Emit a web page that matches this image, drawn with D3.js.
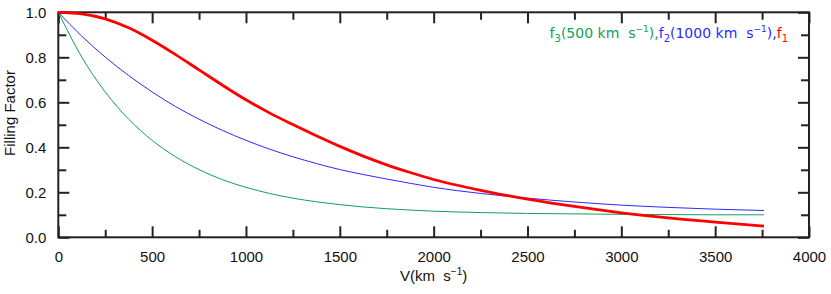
<!DOCTYPE html>
<html>
<head>
<meta charset="utf-8">
<script src="https://cdn.jsdelivr.net/npm/d3@7"></script>
<style>
  body { margin: 0; background: #fff; }
  text { font-family: "Liberation Sans", Arial, sans-serif; }
</style>
</head>
<body>
<svg id="chart"></svg>
<script>
var velocity = [0, 125, 250, 375, 500, 625, 750, 875, 1000, 1125, 1250, 1375, 1500, 1625, 1750, 1875,
                2000, 2250, 2500, 2750, 3000, 3250, 3500, 3760];

// f1 (red, thick)
var f1 = [1.0, 0.993, 0.971, 0.931, 0.876, 0.812, 0.744, 0.676, 0.611, 0.553, 0.501, 0.451, 0.404, 0.361, 0.322, 0.288,
          0.257, 0.209, 0.170, 0.137, 0.109, 0.086, 0.067, 0.050];
// f2, 1000 km/s (blue)
var f2 = [1.0, 0.894, 0.801, 0.719, 0.646, 0.581, 0.525, 0.475, 0.431, 0.392, 0.358, 0.328, 0.301, 0.279, 0.259, 0.240,
          0.222, 0.195, 0.174, 0.157, 0.143, 0.133, 0.125, 0.119];
// f3, 500 km/s (green)
var f3 = [1.0, 0.801, 0.646, 0.525, 0.431, 0.358, 0.301, 0.256, 0.222, 0.195, 0.174, 0.158, 0.145, 0.135, 0.127, 0.121,
          0.116, 0.110, 0.106, 0.104, 0.102, 0.101, 0.100, 0.100];

var xMajor = [0, 500, 1000, 1500, 2000, 2500, 3000, 3500, 4000];
var xMinor = [250, 750, 1250, 1750, 2250, 2750, 3250, 3750];
var yMajor = [0, 0.2, 0.4, 0.6, 0.8, 1.0];
var yMinor = [0.1, 0.3, 0.5, 0.7, 0.9];

var W = 831, H = 294;
var margin = { top: 12.3, right: 22, bottom: 56.7, left: 58.3 },
    width = W - margin.left - margin.right,
    height = H - margin.top - margin.bottom;

var svg = d3.select("#chart")
    .attr("width", W)
    .attr("height", H);

var g = svg.append("g")
    .attr("transform", "translate(" + margin.left + "," + margin.top + ")");

var x = d3.scaleLinear().domain([0, 4000]).range([0, width]);
var y = d3.scaleLinear().domain([0, 1]).range([height, 0]);

var axisColor = "#222";

function styleAxis(sel) {
    sel.select(".domain").remove();
    sel.selectAll(".tick line").attr("stroke", axisColor).attr("stroke-width", 2);
    sel.selectAll(".tick text").attr("fill", "#111").style("font-size", "15px");
}

// bottom
g.append("g").attr("transform", "translate(0," + height + ")")
    .call(d3.axisBottom(x).tickValues(xMajor).tickSize(-11).tickPadding(14).tickFormat(d3.format("d")))
    .call(styleAxis);
g.append("g").attr("transform", "translate(0," + height + ")")
    .call(d3.axisBottom(x).tickValues(xMinor).tickSize(-7.5).tickFormat(""))
    .call(styleAxis);
// top
g.append("g")
    .call(d3.axisTop(x).tickValues(xMajor).tickSize(-11).tickFormat(""))
    .call(styleAxis);
g.append("g")
    .call(d3.axisTop(x).tickValues(xMinor).tickSize(-7.5).tickFormat(""))
    .call(styleAxis);
// left
g.append("g")
    .call(d3.axisLeft(y).tickValues(yMajor).tickSize(-11).tickPadding(12).tickFormat(d3.format(".1f")))
    .call(styleAxis);
g.append("g")
    .call(d3.axisLeft(y).tickValues(yMinor).tickSize(-8).tickFormat(""))
    .call(styleAxis);
// right
g.append("g").attr("transform", "translate(" + width + ",0)")
    .call(d3.axisRight(y).tickValues(yMajor).tickSize(-11).tickFormat(""))
    .call(styleAxis);
g.append("g").attr("transform", "translate(" + width + ",0)")
    .call(d3.axisRight(y).tickValues(yMinor).tickSize(-8).tickFormat(""))
    .call(styleAxis);

// frame
g.append("rect")
    .attr("width", width).attr("height", height)
    .attr("fill", "none").attr("stroke", axisColor).attr("stroke-width", 2);

var line = d3.line()
    .x(function(d) { return x(d[0]); })
    .y(function(d) { return y(d[1]); })
    .curve(d3.curveMonotoneX);

var series = [
    { name: "f3", values: f3, color: "#12a05a", width: 1 },
    { name: "f2", values: f2, color: "#2a2aff", width: 1 },
    { name: "f1", values: f1, color: "#ff0000", width: 2.8 }
];

series.forEach(function(s) {
    g.append("path")
        .datum(velocity.map(function(v, i) { return [v, s.values[i]]; }))
        .attr("fill", "none")
        .attr("stroke", s.color)
        .attr("stroke-width", s.width)
        .attr("d", line);
});

// axis titles
svg.append("text")
    .attr("x", margin.left + width / 2)
    .attr("y", 281)
    .attr("text-anchor", "middle")
    .style("font-size", "15px")
    .attr("fill", "#111")
    .html('V(km&#160;&#160;s<tspan dy="-6" font-size="10px">\u22121</tspan><tspan dy="6">)</tspan>');

svg.append("text")
    .attr("transform", "translate(15,113) rotate(-90)")
    .attr("text-anchor", "middle")
    .style("font-size", "15px")
    .attr("fill", "#111")
    .text("Filling Factor");

// legend
var leg = svg.append("text")
    .attr("x", 788)
    .attr("y", 38)
    .attr("text-anchor", "end")
    .style("font-family", "'DejaVu Sans', Verdana, sans-serif")
    .style("font-size", "14px");

leg.html(
    '<tspan fill="#12a05a">f<tspan dy="4" font-size="10px">3</tspan><tspan dy="-4">(500 km&#160;&#160;s</tspan><tspan dy="-6" font-size="9px">\u22121</tspan><tspan dy="6">),</tspan></tspan>' +
    '<tspan fill="#2a2aff">f<tspan dy="4" font-size="10px">2</tspan><tspan dy="-4">(1000 km&#160;&#160;s</tspan><tspan dy="-6" font-size="9px">\u22121</tspan><tspan dy="6">),</tspan></tspan>' +
    '<tspan fill="#ff0000">f<tspan dy="4" font-size="10px">1</tspan></tspan>'
);
</script>
</body>
</html>
